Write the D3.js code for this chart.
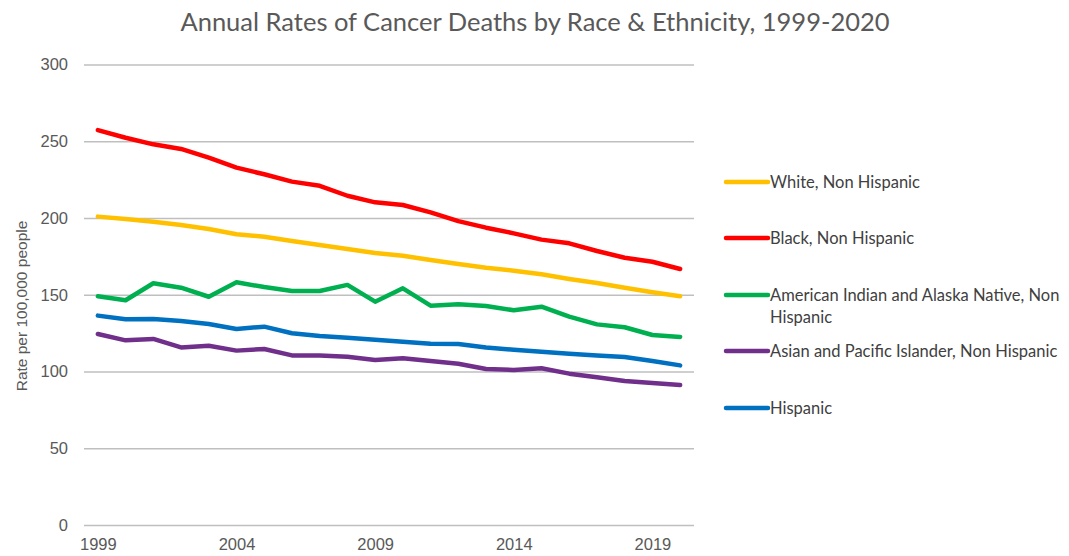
<!DOCTYPE html>
<html>
<head>
<meta charset="utf-8">
<script src="https://cdn.jsdelivr.net/npm/d3@7"></script>
<style>
  html, body { margin: 0; padding: 0; background: #fff; }
  svg { display: block; }
</style>
</head>
<body>
<svg id="chart" width="1069" height="556"></svg>
<script>
// Age-adjusted cancer death rates per 100,000 people, 1999-2020
const years = d3.range(1999, 2021);
const xTickYears = [1999, 2004, 2009, 2014, 2019];
const yTicks = [0, 50, 100, 150, 200, 250, 300];

const seriesNames = [
  "White, Non Hispanic",
  "Black, Non Hispanic",
  "American Indian and Alaska Native, Non Hispanic",
  "Asian and Pacific Islander, Non Hispanic",
  "Hispanic"
];
const seriesColors = ["#FFC000", "#FF0000", "#00B050", "#702F8A", "#0070C0"];

const white = [200.9, 199.3, 197.6, 195.4, 192.8, 189.4, 187.8, 185.0, 182.4, 179.8, 177.2,
               175.4, 172.6, 170.0, 167.6, 165.7, 163.3, 160.3, 157.7, 154.6, 151.6, 149.0];
const black = [257.3, 252.3, 248.0, 245.0, 239.3, 232.8, 228.5, 223.7, 221.0, 214.5, 210.2,
               208.5, 203.7, 198.0, 193.7, 190.0, 185.9, 183.5, 178.5, 174.1, 171.5, 166.8];
const aian  = [149.0, 146.4, 157.5, 154.6, 148.7, 158.1, 155.0, 152.4, 152.4, 156.4, 145.5,
               154.2, 142.9, 143.8, 142.7, 139.9, 142.2, 135.7, 130.7, 128.8, 123.8, 122.5];
const api   = [124.4, 120.3, 121.2, 115.7, 116.8, 113.6, 114.7, 110.5, 110.5, 109.6, 107.5,
               108.6, 106.8, 105.1, 101.6, 101.0, 102.1, 98.6, 96.2, 93.8, 92.5, 91.2];
const hispanic = [136.4, 134.0, 134.2, 132.9, 130.9, 127.7, 129.2, 124.9, 123.1, 122.0, 120.7,
                  119.4, 118.1, 117.9, 115.7, 114.2, 112.9, 111.6, 110.5, 109.4, 106.8, 104.0];

const seriesValues = [white, black, aian, api, hispanic];
// drawing order: later entries sit on top
const drawOrder = [0, 1, 2, 4, 3];

const svg = d3.select("#chart");
const plot = { left: 84, right: 694, top: 64.5, bottom: 525 };

const x = d3.scalePoint().domain(years).range([plot.left, plot.right]).padding(0.5);
const y = d3.scaleLinear().domain([0, 300]).range([plot.bottom, plot.top]);

const axisFont = "'Liberation Sans', Arial, sans-serif";
const textFont = "Lato, 'Open Sans', sans-serif";

// Title
svg.append("text")
  .attr("x", 535).attr("y", 31)
  .attr("text-anchor", "middle")
  .attr("font-family", textFont)
  .attr("font-size", 25.5)
  .attr("fill", "#595959")
  .text("Annual Rates of Cancer Deaths by Race & Ethnicity, 1999-2020");

// Horizontal gridlines + y tick labels
const yAxis = d3.axisLeft(y).tickValues(yTicks).tickSize(-(plot.right - plot.left)).tickPadding(16);
const gy = svg.append("g")
  .attr("transform", `translate(${plot.left},0)`)
  .call(yAxis);
gy.select(".domain").remove();
gy.selectAll(".tick line").attr("stroke", "#bfbfbf").attr("stroke-width", 1.5);
gy.selectAll(".tick text")
  .attr("font-family", axisFont)
  .attr("font-size", 16.5)
  .attr("fill", "#595959");

// x tick labels
const xAxis = d3.axisBottom(x).tickValues(xTickYears).tickSize(0).tickPadding(13);
const gx = svg.append("g")
  .attr("transform", `translate(0,${plot.bottom})`)
  .call(xAxis);
gx.select(".domain").remove();
gx.selectAll(".tick text")
  .attr("font-family", axisFont)
  .attr("font-size", 16.5)
  .attr("fill", "#595959");

// y axis title
svg.append("text")
  .attr("transform", "translate(27,306) rotate(-90)")
  .attr("text-anchor", "middle")
  .attr("font-family", axisFont)
  .attr("font-size", 15.5)
  .attr("fill", "#595959")
  .text("Rate per 100,000 people");

// Series lines
const line = d3.line()
  .x((d, i) => x(years[i]))
  .y(d => y(d));

svg.append("g").selectAll("path")
  .data(drawOrder)
  .join("path")
  .attr("d", k => line(seriesValues[k]))
  .attr("fill", "none")
  .attr("stroke", k => seriesColors[k])
  .attr("stroke-width", 4.5)
  .attr("stroke-linejoin", "round")
  .attr("stroke-linecap", "round");

// Legend
const legendRows = [
  { k: 0, y: 182, lines: ["White, Non Hispanic"] },
  { k: 1, y: 238, lines: ["Black, Non Hispanic"] },
  { k: 2, y: 295, lines: ["American Indian and Alaska Native, Non", "Hispanic"] },
  { k: 3, y: 351, lines: ["Asian and Pacific Islander, Non Hispanic"] },
  { k: 4, y: 408, lines: ["Hispanic"] }
];
const legend = svg.append("g");
const rows = legend.selectAll("g").data(legendRows).join("g")
  .attr("transform", d => `translate(726,${d.y})`);
rows.append("line")
  .attr("x1", 0).attr("x2", 42).attr("y1", 0).attr("y2", 0)
  .attr("stroke", d => seriesColors[d.k])
  .attr("stroke-width", 4.5)
  .attr("stroke-linecap", "round");
rows.append("text")
  .attr("x", 44)
  .attr("y", 6)
  .attr("font-family", textFont)
  .attr("font-size", 16.5)
  .attr("fill", "#404040")
  .selectAll("tspan")
  .data(d => d.lines)
  .join("tspan")
  .attr("x", 44)
  .attr("dy", (t, i) => i === 0 ? 0 : 22)
  .text(t => t);
</script>
</body>
</html>
